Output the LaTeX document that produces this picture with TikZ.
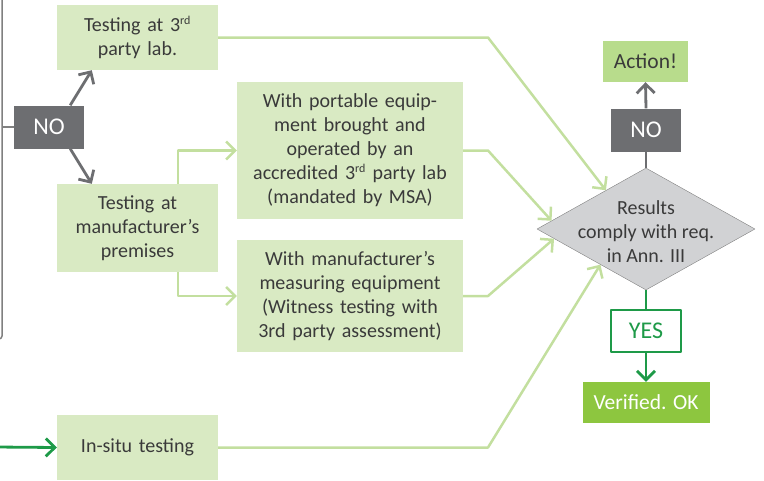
\documentclass[tikz,border=0pt]{standalone}
\usepackage{fontspec}
\setmainfont{Carlito}
\usetikzlibrary{shapes.geometric,arrows.meta}
\definecolor{boxgreen}{HTML}{D9EAC3}
\definecolor{linegreen}{HTML}{C3DF9F}
\definecolor{actgreen}{HTML}{B8DC8C}
\definecolor{okgreen}{HTML}{8DC63F}
\definecolor{darkgreen}{HTML}{1E9A48}
\definecolor{nogray}{HTML}{6D6E71}
\definecolor{txtgray}{HTML}{3A3A3A}
\definecolor{diagray}{HTML}{D1D2D4}
\newcommand{\sups}[1]{\textsuperscript{\fontsize{12}{12}\selectfont #1}}
\begin{document}
\begin{tikzpicture}[x=1pt, y=-1pt, font=\fontsize{20}{24}\selectfont, line join=round,
	box/.style={fill=boxgreen, text=txtgray, inner sep=0pt, align=center},
	nobox/.style={fill=nogray, text=white, inner sep=0pt, minimum width=70pt, minimum height=43pt, font=\fontsize{24}{24}\selectfont},
	conn/.style={draw=linegreen, line width=2.5pt, -{Straight Barb[length=9pt,width=18pt]}},
	grayline/.style={draw=nogray, line width=2.8pt},
	greenline/.style={draw=darkgreen, line width=2.8pt}]
	\useasboundingbox (0,0) rectangle (764,480);
	\def\bendx{488} % x of the bends before the diamond
	\coordinate (bend) at (\bendx,0);
	\coordinate (edge) at (2,127);
	\coordinate (in) at (-5,447);
	% left side
	\draw[draw=gray, line width=1.5pt, rounded corners=3pt] (2,-5) -- (2,339) -- (-6,339);
	\node[nobox] (nol) at (49,127) {NO};
	\draw[draw=gray, line width=1.5pt] (edge) -- (nol.west);
	\node[box, text width=161pt, minimum height=65pt] (lab) at (137.5,37.5) {Testing at 3\sups{rd}\\party lab.};
	\node[box, text width=161pt, minimum height=88pt] (prem) at (137.5,228) {Testing at\\manufacturer’s\\premises};
	\node[box, text width=161pt, minimum height=65pt] (situ) at (137.5,447.5) {In-situ testing};
	\node[box, text width=226pt, minimum height=137pt] (port) at (350,150.5) {With portable equip-\\ment brought and\\operated by an\\accredited 3\sups{rd} party lab\\(mandated by MSA)};
	\node[box, text width=226pt, minimum height=112pt] (meas) at (350,296) {With manufacturer’s\\measuring equipment\\(Witness testing with\\3rd party assessment)};
	\draw[grayline, -{Straight Barb[length=9pt,width=18pt]}] ([xshift=-14pt]nol.north east) -- ([xshift=35pt]lab.south west);
	\draw[grayline, -{Straight Barb[length=9pt,width=18pt]}] ([xshift=-14pt]nol.south east) -- ([xshift=35pt]prem.north west);
	\draw[conn] ([xshift=40.5pt]prem.north) |- (port.west);
	\draw[conn] ([xshift=40.5pt]prem.south) |- (meas.west);
	\draw[greenline, -{Straight Barb[length=9pt,width=18pt]}] (in) -- (situ.west);
	% decision
	\node[diamond, draw=gray, fill=diagray, minimum width=218pt, minimum height=122pt, inner sep=0pt] (res) at (646,229) {};
	\node[text=txtgray, align=center] at ([yshift=-3pt]res.center) {Results\\comply with req.\\in Ann. III};
	\foreach \src/\ang in {lab/136, port/175, meas/186, situ/218}
		\draw[conn] (\src.east) -- (\src.east -| bend) -- (res.\ang);
	\node[nobox] (nor) at (646,130) {NO};
	\node[fill=actgreen, text=txtgray, inner sep=0pt, minimum width=85pt, minimum height=41pt, font=\fontsize{21.5}{24}\selectfont] (act) at (645.5,61.5) {Action!};
	\node[draw=darkgreen, line width=1.2pt, fill=white, text=darkgreen, inner sep=0pt, minimum width=70pt, minimum height=42pt, font=\fontsize{24}{24}\selectfont] (yes) at (646,331) {YES};
	\node[fill=okgreen, text=white, inner sep=0pt, minimum width=127pt, minimum height=41pt, font=\fontsize{21.5}{24}\selectfont] (ok) at (646,402.5) {Verified. OK};
	\draw[grayline] (res.north) -- (nor.south);
	\draw[grayline, -{Straight Barb[length=9pt,width=18pt]}] (nor.north) -- (act.south);
	\draw[greenline] (res.south) -- (yes.north);
	\draw[greenline, -{Straight Barb[length=9pt,width=18pt]}] (yes.south) -- (ok.north);
\end{tikzpicture}
\end{document}
